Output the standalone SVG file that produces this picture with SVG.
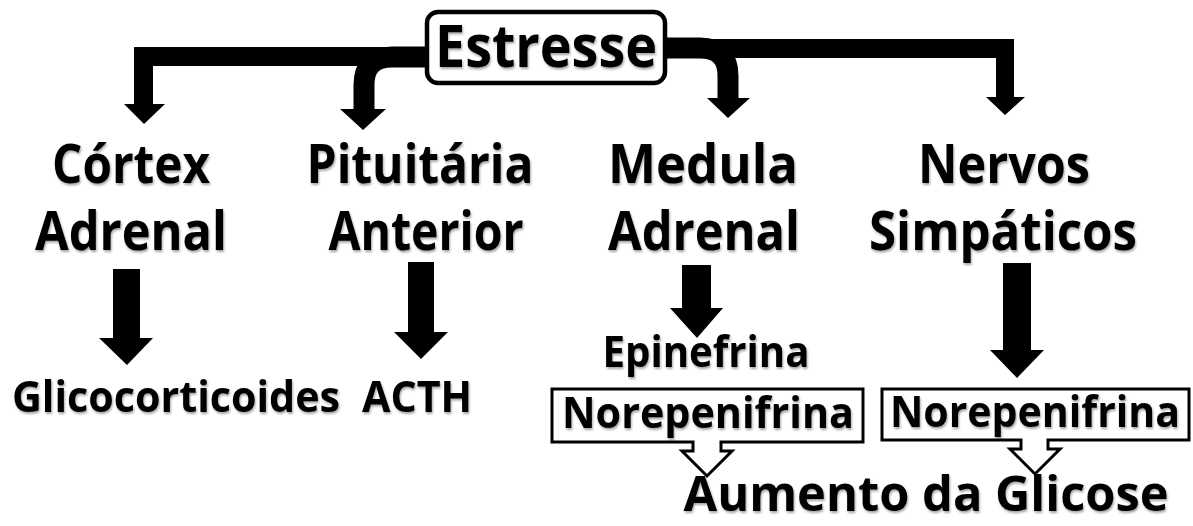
<svg xmlns="http://www.w3.org/2000/svg" width="1193" height="526" viewBox="0 0 1193 526">
  <defs>
    <filter id="sh" x="-5%" y="-20%" width="110%" height="150%">
      <feDropShadow dx="1" dy="2" stdDeviation="1.2" flood-color="#000" flood-opacity="0.35"/>
    </filter>
    <style>
      .t { font-family: "Open Sans", "Liberation Sans", sans-serif; font-weight: bold; fill: #000; text-anchor: middle; filter: url(#sh); }
      .big { font-size: 53px; }
      .mid { font-size: 43px; }
      .box { fill: #fff; stroke: #000; stroke-width: 3; }
      .blk { fill: #000; stroke: none; }
      .curve { fill: none; stroke: #000; stroke-width: 21; }
    </style>
  </defs>
  <rect width="1193" height="526" fill="#fff"/>

  <g id="connectors">
    <polygon class="blk" points="425,47 425,66 153,66 153,104 165,104 144,124 124,104 134,104 134,47"/>
    <path class="curve" d="M 426 57 H 392 Q 364 57 364 85 V 110"/>
    <polygon class="blk" points="340,109 386,109 363,130"/>
    <polygon class="blk" points="667,39 1014,39 1014,97 1025,97 1005,115 986,97 996,97 996,58 667,58"/>
    <path class="curve" d="M 666 48 H 700 Q 728 48 728 76 V 99"/>
    <polygon class="blk" points="707,98 750,98 728,118"/>
    <polygon class="blk" points="113,269 140,269 140,338 153,338 127,365 99,338 113,338"/>
    <polygon class="blk" points="408,262 434,262 434,332 448,332 421,359 394,332 408,332"/>
    <polygon class="blk" points="682,265 711,265 711,308 723,308 697,338 670,308 682,308"/>
    <polygon class="blk" points="1003,263 1031,263 1031,350 1044,350 1017,378 990,350 1003,350"/>
  </g>

  <g id="estresse">
    <rect x="427" y="12" width="238" height="71" rx="11" ry="11" fill="#fff" stroke="#000" stroke-width="4.5"/>
    <text class="t" x="546" y="67" font-size="59" textLength="222" lengthAdjust="spacingAndGlyphs">Estresse</text>
  </g>

  <g id="cortex">
    <text class="t big" x="131" y="183" textLength="158" lengthAdjust="spacingAndGlyphs">Córtex</text>
    <text class="t big" x="131" y="250" textLength="192" lengthAdjust="spacingAndGlyphs">Adrenal</text>
  </g>
  <g id="pituitaria">
    <text class="t big" x="420" y="183" textLength="227" lengthAdjust="spacingAndGlyphs">Pituitária</text>
    <text class="t big" x="426" y="250" textLength="195" lengthAdjust="spacingAndGlyphs">Anterior</text>
  </g>
  <g id="medula">
    <text class="t big" x="703" y="183" textLength="190" lengthAdjust="spacingAndGlyphs">Medula</text>
    <text class="t big" x="704" y="250" textLength="192" lengthAdjust="spacingAndGlyphs">Adrenal</text>
  </g>
  <g id="nervos">
    <text class="t big" x="1004" y="183" textLength="172" lengthAdjust="spacingAndGlyphs">Nervos</text>
    <text class="t big" x="1003" y="250" textLength="268" lengthAdjust="spacingAndGlyphs">Simpáticos</text>
  </g>

  <g id="glicocorticoides">
    <text class="t mid" x="176" y="412" textLength="328" lengthAdjust="spacingAndGlyphs">Glicocorticoides</text>
  </g>
  <g id="acth">
    <text class="t mid" x="417" y="412" textLength="110" lengthAdjust="spacingAndGlyphs">ACTH</text>
  </g>
  <g id="epinefrina">
    <text class="t mid" x="706" y="367" textLength="207" lengthAdjust="spacingAndGlyphs">Epinefrina</text>
  </g>

  <g id="norepinefrina-1">
    <path class="box" d="M 552 389 H 863 V 442 H 721 V 451 H 732 L 707 476 L 682 451 H 693 V 442 H 552 Z"/>
    <text class="t mid" x="708" y="428" textLength="292" lengthAdjust="spacingAndGlyphs">Norepenifrina</text>
  </g>
  <g id="norepinefrina-2">
    <path class="box" d="M 882 389 H 1189 V 440 H 1048 V 449 H 1060 L 1035 474 L 1010 449 H 1021 V 440 H 882 Z"/>
    <text class="t mid" x="1035" y="427" textLength="290" lengthAdjust="spacingAndGlyphs">Norepenifrina</text>
  </g>

  <g id="aumento">
    <text class="t" x="926" y="511" font-size="49" textLength="485" lengthAdjust="spacingAndGlyphs">Aumento da Glicose</text>
  </g>
</svg>
